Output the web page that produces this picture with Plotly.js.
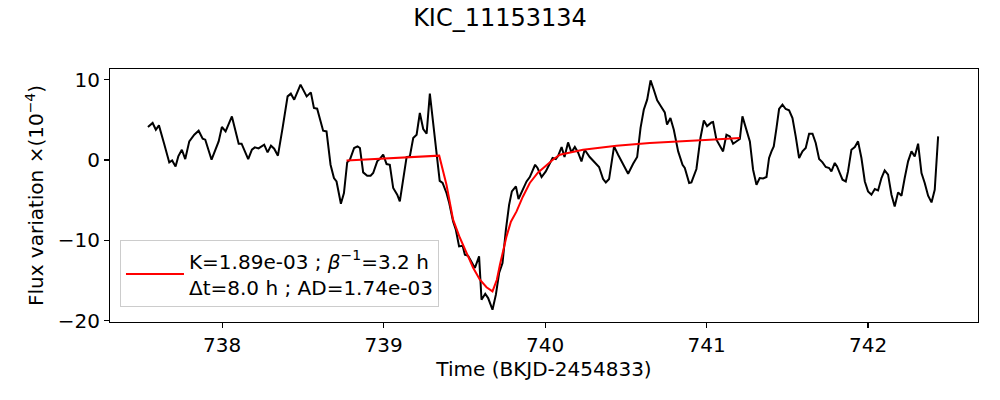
<!DOCTYPE html>
<html>
<head>
<meta charset="utf-8">
<script src="https://cdn.plot.ly/plotly-3.0.1.min.js"></script>
<style>html,body{margin:0;padding:0;background:#fff;}#chart{width:1000px;height:400px;}</style>
</head>
<body>
<div id="chart"></div>
<script>
// Observed light curve (time in BKJD-2454833, flux variation x 1e-4)
const obsTime = [737.540,737.569,737.589,737.608,737.639,737.672,737.690,737.711,737.728,737.750,737.771,737.796,737.827,737.854,737.879,737.895,737.934,737.978,737.998,738.021,738.060,738.085,738.102,738.120,738.161,738.184,738.202,738.225,738.260,738.281,738.302,738.322,738.345,738.374,738.405,738.425,738.446,738.485,738.523,738.549,738.568,738.588,738.625,738.646,738.671,738.692,738.708,738.735,738.754,738.774,738.791,738.817,738.838,738.853,738.873,738.898,738.919,738.935,738.960,738.981,738.997,739.018,739.038,739.059,739.084,739.100,739.142,739.162,739.183,739.204,739.224,739.245,739.266,739.286,739.317,739.347,739.365,739.389,739.406,739.430,739.447,739.467,739.489,739.503,739.523,739.544,739.565,739.591,739.606,739.629,739.647,739.674,739.695,739.715,739.736,739.757,739.777,739.794,739.819,739.835,739.885,739.905,739.938,739.953,739.978,740.004,740.046,740.066,740.081,740.102,740.120,740.142,740.163,740.184,740.204,740.225,740.245,740.276,740.307,740.334,740.359,740.376,740.396,740.427,740.452,740.483,740.514,740.545,740.570,740.591,740.611,740.632,740.653,740.673,740.694,740.715,740.741,740.755,740.776,740.797,740.824,740.851,740.865,740.892,740.906,740.937,740.962,740.983,741.003,741.030,741.040,741.061,741.082,741.102,741.123,741.144,741.164,741.189,741.206,741.222,741.247,741.268,741.288,741.309,741.329,741.350,741.371,741.387,741.402,741.416,741.433,741.449,741.470,741.490,741.511,741.532,741.552,741.573,741.594,741.614,741.635,741.656,741.676,741.697,741.718,741.738,741.759,741.773,741.794,741.808,741.825,741.842,741.862,741.876,741.897,741.918,741.938,741.959,741.980,742.000,742.021,742.042,742.062,742.083,742.103,742.124,742.145,742.165,742.186,742.207,742.227,742.248,742.269,742.289,742.310,742.331,742.351,742.372,742.393,742.413,742.434];
const obsFlux = [4.11,4.61,3.77,4.31,2.12,-0.30,-0.05,-0.80,0.45,1.28,0.12,2.32,3.15,3.65,2.65,2.53,0.04,2.32,4.11,3.56,5.43,3.15,2.03,2.03,0.12,1.28,1.57,1.44,1.91,0.95,1.78,1.41,0.54,3.99,7.92,8.26,7.51,9.38,7.92,8.42,6.48,6.39,3.65,3.56,-0.59,-2.24,-2.67,-5.44,-4.11,-0.30,0.04,1.49,1.69,1.49,-1.54,-1.96,-1.96,-1.62,-0.17,0.25,0.66,-0.50,-0.59,-3.49,-4.32,-5.16,0.37,0.45,2.74,3.15,5.85,3.86,3.28,8.26,2.94,-2.60,-2.86,-4.11,-5.35,-7.65,-8.68,-10.76,-10.67,-11.79,-11.92,-12.63,-13.45,-12.00,-17.40,-16.65,-17.19,-18.64,-16.77,-14.07,-12.83,-8.68,-5.57,-3.91,-3.29,-4.86,-2.67,-2.12,-0.59,-1.00,-2.12,-1.42,0.25,0.12,0.54,1.62,0.37,2.19,0.95,1.62,0.95,-0.17,1.28,0.37,-0.37,-0.87,-2.37,-2.79,-2.37,1.69,0.66,-0.59,-1.71,-0.46,0.37,3.99,6.26,7.51,9.91,8.75,7.42,6.76,5.93,4.40,5.23,3.77,1.07,-0.59,-1.00,-2.86,-2.79,-1.12,2.74,4.93,4.22,4.68,4.73,2.53,1.69,1.07,3.15,2.94,2.03,2.32,2.62,5.43,3.77,2.32,-1.21,-3.08,-2.24,-2.29,-2.12,0.25,1.07,1.69,3.99,6.35,6.89,6.35,6.18,5.23,2.94,0.25,1.07,1.49,3.28,3.28,2.12,0.12,-0.30,-0.87,-1.00,-1.42,-0.37,-0.80,-1.62,-2.45,-2.67,-1.42,1.28,1.62,2.32,0.25,-2.67,-3.91,-4.32,-3.61,-3.79,-2.24,-1.30,-1.83,-4.32,-5.78,-4.03,-4.45,-2.24,-0.17,1.07,0.45,2.03,-1.62,-2.86,-4.45,-5.28,-3.70,2.94];

// Fitted model
const modelTime = [738.770,739.344,739.389,739.430,739.472,739.513,739.554,739.596,739.637,739.674,739.701,739.720,739.740,739.761,739.788,739.823,739.862,739.905,739.955,740.009,740.048,740.091,740.235,740.442,740.648,741.020,741.206];
const modelFlux = [-0.05,0.54,-3.08,-7.43,-9.68,-11.58,-13.41,-14.91,-15.84,-16.36,-14.91,-13.04,-11.17,-9.51,-7.68,-6.40,-4.57,-2.86,-1.58,-0.59,0.04,0.66,1.28,1.78,2.12,2.53,2.74];

const titleText = 'KIC_11153134';
const legendText = 'K=1.89e-03 ; <i>β</i><sup>−1</sup>=3.2 h<br>Δt=8.0 h ; AD=1.74e-03';
const xTitle = 'Time (BKJD-2454833)';
const yTitle = 'Flux variation ×(10<sup>−4</sup>)';
const xTicks = [738, 739, 740, 741, 742];
const yTicks = [-20, -10, 0, 10];

const FONT = 'DejaVu Sans, sans-serif';

const traces = [
  {x: obsTime, y: obsFlux, mode: 'lines', line: {color: '#000000', width: 2}, showlegend: false, hoverinfo: 'skip'},
  {x: modelTime, y: modelFlux, mode: 'lines', line: {color: '#ff0000', width: 2}, name: legendText, showlegend: true}
];

const axisCommon = {
  showgrid: false, zeroline: false, showline: true, linecolor: '#000', linewidth: 1.1, mirror: true,
  ticks: 'outside', ticklen: 5, tickwidth: 1.1, tickcolor: '#000',
  tickfont: {family: FONT, size: 20, color: '#000'}
};

const layout = {
  width: 1000, height: 400,
  margin: {l: 110, r: 21.7, t: 69.3, b: 77.7, pad: 0},
  paper_bgcolor: '#fff', plot_bgcolor: '#fff',
  title: {text: titleText, font: {family: FONT, size: 24, color: '#000'}, xref: 'container', x: 0.5, xanchor: 'center', yref: 'container', y: 0.956, yanchor: 'middle'},
  xaxis: Object.assign({}, axisCommon, {range: [737.305, 742.681], tickvals: xTicks, ticktext: xTicks.map(String),
    title: {text: xTitle, font: {family: FONT, size: 20, color: '#000'}, standoff: 3}}),
  yaxis: Object.assign({}, axisCommon, {range: [-20.17, 11.33], tickvals: yTicks,
    title: {text: yTitle, font: {family: FONT, size: 20, color: '#000'}, standoff: 8}}),
  legend: {x: 0.0115, y: 0.3225, xanchor: 'left', yanchor: 'top', bgcolor: 'rgba(255,255,255,0.8)', bordercolor: '#cccccc', borderwidth: 1,
    itemwidth: 58, font: {family: FONT, size: 20, color: '#000'}},
  showlegend: true
};

Plotly.newPlot('chart', traces, layout, {staticPlot: true, displayModeBar: false});
</script>
</body>
</html>
